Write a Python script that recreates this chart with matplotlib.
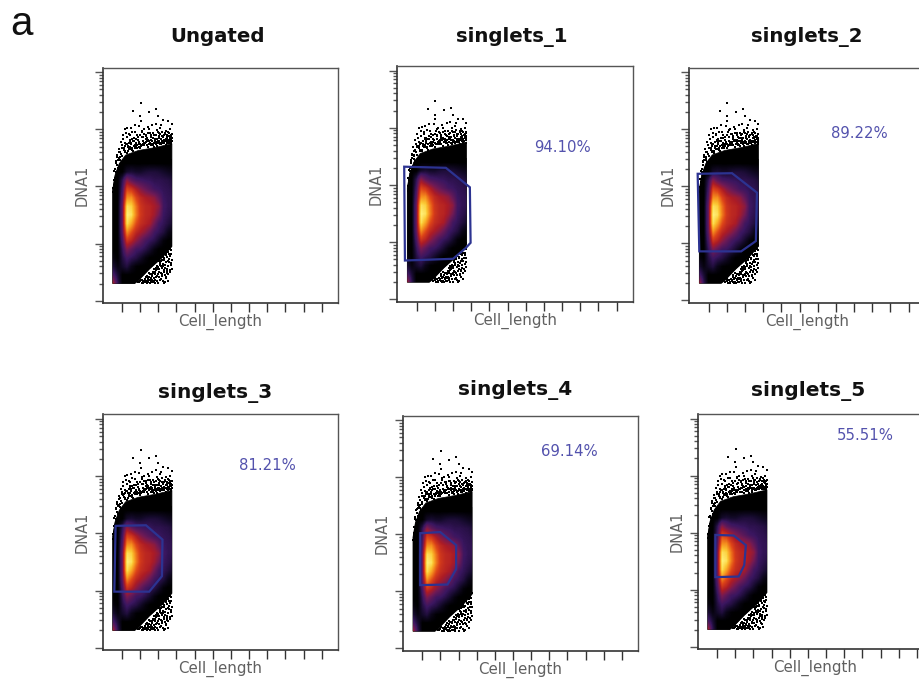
import numpy as np
import matplotlib
matplotlib.use("Agg")
import matplotlib.pyplot as plt
from matplotlib.colors import LinearSegmentedColormap
from matplotlib.patches import Polygon

###---panels: x = Cell_length tick units, y = log10 DNA1---###
titles = ["Ungated", "singlets_1", "singlets_2", "singlets_3", "singlets_4", "singlets_5"]
percents = [None, "94.10%", "89.22%", "81.21%", "69.14%", "55.51%"]

# density, rows top->bottom, 0=black 10=pale yellow
dens_x = [0.5, 0.75, 1.0, 1.25, 1.5, 1.75, 2.0, 2.25, 2.5, 2.75, 3.0, 3.25, 3.5, 3.75]
dens_y = [2.4, 2.25, 2.1, 1.95, 1.8, 1.65, 1.5, 1.35, 1.2, 1.05, 0.9, 0.75, 0.6, 0.45, 0.3]
dens = [
    [0, 0, 0, 0, 0, 0, 0, 0, 0, 0, 0, 0, 0, 0],
    [0, 0, 0, 0.8, 1, 0.8, 0.8, 1, 1.1, 1.1, 1, 0.8, 0.6, 0.5],
    [0, 0, 1.5, 3.8, 2.8, 2.2, 2, 1.8, 1.7, 1.5, 1.5, 1.4, 1.3, 1],
    [0, 0, 2, 6, 5.5, 4.5, 3.6, 3, 2.5, 2, 1.8, 1.6, 1.5, 1.3],
    [0, 0, 2.5, 7.5, 7.5, 6, 5, 4.5, 4.2, 3.8, 2.8, 1.8, 1.6, 1.5],
    [0, 0, 3, 9.5, 9, 7, 5.5, 5, 4.8, 4.4, 3.8, 2, 1.6, 1.5],
    [0, 0, 3, 10, 9.5, 7.2, 5.6, 5, 4.8, 4.2, 3.2, 1.8, 1.5, 1.2],
    [0, 0, 3, 9.5, 8, 6.2, 5.2, 4.8, 4.4, 3.2, 2, 1.6, 1.2, 0.8],
    [0, 0, 2.8, 7.5, 6.2, 5, 4.4, 3.8, 3, 2, 1.6, 1.2, 0.5, 0.2],
    [0, 0, 2.2, 5.5, 4.8, 3.8, 3, 2.2, 1.7, 1.4, 0.8, 0.2, 0, 0],
    [0, 0, 1.6, 3.5, 2.8, 2, 1.8, 1.4, 0.9, 0.3, 0, 0, 0, 0],
    [0.3, 0, 1.2, 2, 1.6, 1.3, 0.8, 0.3, 0, 0, 0, 0, 0, 0],
    [1, 0.3, 0.8, 1.2, 0.5, 0.1, 0, 0, 0, 0, 0, 0, 0, 0],
    [2.2, 1, 0, 0, 0, 0, 0, 0, 0, 0, 0, 0, 0, 0],
    [4.5, 1.5, 0, 0, 0, 0, 0, 0, 0, 0, 0, 0, 0, 0],
]

# outline of the solid black part of the cloud
cloud_x = [0.49, 0.49, 0.62, 0.85, 1.2, 1.9, 2.8, 3.75, 3.75, 3.2, 2.5, 1.9, 1.7]
cloud_y = [0.3, 1.95, 2.2, 2.4, 2.55, 2.63, 2.68, 2.75, 0.95, 0.75, 0.55, 0.35, 0.3]

# single events above the cloud
top_x = [2.03, 1.62, 2.87, 2.5, 1.99, 2.03, 3.0, 3.27, 3.55, 3.73, 1.16, 1.3, 1.48, 1.7, 1.95, 2.2, 2.42, 2.66,
         2.93, 3.1, 3.42, 3.66, 1.05, 1.22, 1.4, 1.58, 1.82, 2.08, 2.31, 2.55, 2.78, 3.02, 3.2, 3.38, 3.6, 3.72,
         0.92, 1.08, 1.25, 1.44, 1.66, 1.88, 2.12, 2.35, 2.6, 2.83, 3.06, 3.3, 3.5, 3.7, 0.82, 0.98, 1.15, 1.33,
         1.52, 1.74, 1.96, 2.18, 2.4, 2.63, 2.88, 3.12, 3.35, 3.56, 3.74, 0.75, 0.9, 1.03, 1.19, 1.37, 1.55,
         1.77, 2.0, 2.24, 2.46, 2.7, 2.95, 3.17, 3.41, 3.63, 0.68, 0.84, 0.96, 1.11, 1.28, 1.46, 1.63, 1.85,
         2.06, 2.28, 2.51, 2.74, 2.98, 3.23, 3.46, 3.69, 0.62, 0.72, 0.87, 1.01, 1.17, 1.35, 1.6, 1.92, 2.15,
         2.37, 2.58, 2.8, 3.04, 3.26, 3.48, 3.71, 0.55, 0.66, 0.79, 0.94, 0.52, 0.6, 0.7, 0.51, 0.57, 0.64,
         1.42, 1.72, 2.1, 2.48, 2.85, 3.15, 3.52, 1.5, 1.8, 2.26, 2.68, 3.08, 3.44, 3.68, 0.77, 1.13, 0.88, 1.21,
         2.31, 2.44, 2.57, 2.69, 2.81, 2.92, 3.03, 3.14, 3.24, 3.33, 3.43, 3.53, 3.62, 3.72, 2.36, 2.49, 2.62,
         2.76, 2.9, 3.0, 3.11, 3.21, 3.31, 3.4, 3.49, 3.58, 3.67, 3.74, 1.31, 1.39, 1.47, 1.56, 1.64, 1.73, 1.83,
         1.93, 2.02, 2.11, 2.2, 1.1, 1.19, 1.27, 1.36, 1.45, 1.54, 1.68, 1.79, 1.9, 2.01, 2.14, 2.23, 2.33, 2.45,
         2.59, 2.73, 2.86, 2.97, 3.09, 3.19, 3.29, 3.39, 3.47, 3.57, 3.65, 3.73, 1.0, 0.86, 0.74, 0.69, 0.58]
top_y = [3.46, 3.32, 3.35, 3.31, 3.23, 3.15, 3.23, 3.16, 3.15, 3.09, 3.0, 3.02, 3.03, 3.07, 3.06, 3.0, 3.04, 3.08,
         2.99, 3.03, 2.98, 3.0, 2.9, 2.94, 2.92, 2.96, 2.9, 2.95, 2.91, 2.94, 2.9, 2.93, 2.89, 2.92, 2.88, 2.91,
         2.78, 2.83, 2.86, 2.82, 2.85, 2.81, 2.86, 2.83, 2.87, 2.82, 2.85, 2.81, 2.84, 2.82, 2.66, 2.72, 2.76,
         2.71, 2.77, 2.73, 2.78, 2.74, 2.79, 2.75, 2.78, 2.74, 2.79, 2.76, 2.8, 2.55, 2.61, 2.67, 2.62, 2.68,
         2.64, 2.7, 2.67, 2.72, 2.69, 2.73, 2.71, 2.75, 2.72, 2.77, 2.42, 2.5, 2.57, 2.64, 2.59, 2.66, 2.62,
         2.68, 2.71, 2.76, 2.8, 2.7, 2.76, 2.8, 2.78, 2.84, 2.3, 2.38, 2.46, 2.53, 2.6, 2.7, 2.8, 2.75, 2.8,
         2.85, 2.81, 2.84, 2.88, 2.76, 2.86, 2.74, 2.12, 2.25, 2.33, 2.42, 1.98, 2.08, 2.17, 1.9, 2.02, 2.15,
         2.9, 2.95, 2.98, 3.0, 3.1, 3.08, 2.95, 2.74, 2.76, 2.77, 2.79, 2.77, 2.8, 2.86, 2.47, 2.68, 2.52, 2.74,
         2.78, 2.82, 2.77, 2.85, 2.8, 2.84, 2.79, 2.83, 2.86, 2.8, 2.84, 2.81, 2.87, 2.78, 2.72, 2.75, 2.73,
         2.76, 2.74, 2.79, 2.75, 2.78, 2.76, 2.79, 2.77, 2.8, 2.83, 2.85, 2.62, 2.66, 2.7, 2.67, 2.71, 2.68, 2.73,
         2.7, 2.74, 2.72, 2.76, 2.68, 2.71, 2.74, 2.77, 2.8, 2.83, 2.8, 2.84, 2.87, 2.9, 2.87, 2.92, 2.88, 2.93,
         2.9, 2.94, 2.91, 2.95, 2.92, 2.96, 2.9, 2.94, 2.9, 2.93, 2.89, 2.92, 2.68, 2.6, 2.52, 2.44, 2.27]

# single events below the cloud, bottom right
low_x = [3.72, 3.6, 3.48, 3.7, 3.55, 3.4, 3.25, 3.66, 3.5, 3.33, 3.18, 3.05, 3.74, 3.58, 3.42, 3.28, 3.12, 2.95,
         2.85, 3.68, 3.52, 3.36, 3.2, 3.02, 2.88, 2.72, 3.73, 3.62, 3.46, 3.3, 3.14, 2.98, 2.8, 2.65, 2.5, 3.56,
         3.38, 3.22, 3.06, 2.9, 2.75, 2.58, 2.42, 2.3, 3.45, 3.1, 2.94, 2.78, 2.62, 2.46, 2.34, 2.2, 2.08, 3.35,
         3.0, 2.82, 2.68, 2.52, 2.38, 2.25, 2.12, 2.0, 1.88, 3.5, 3.25, 2.7, 2.55, 2.4, 2.28, 2.15, 2.03, 1.92,
         3.4, 3.15, 2.92, 2.6, 2.44, 2.32, 2.18, 3.55, 3.3, 2.8, 2.36, 3.64, 3.69, 3.57, 3.44, 3.32, 3.24, 3.16,
         3.08, 3.71, 3.61, 3.51, 3.39, 3.27, 3.13, 3.01, 2.91, 2.84, 2.76, 3.66, 3.47, 3.34, 3.19, 3.04, 2.93,
         2.77, 2.66, 2.54, 2.47]
low_y = [0.98, 0.95, 0.92, 0.88, 0.86, 0.83, 0.79, 0.78, 0.77, 0.74, 0.72, 0.69, 0.72, 0.68, 0.67, 0.65, 0.63, 0.61,
         0.58, 0.62, 0.6, 0.58, 0.57, 0.55, 0.53, 0.5, 0.56, 0.53, 0.52, 0.5, 0.48, 0.47, 0.46, 0.44, 0.42, 0.47,
         0.45, 0.43, 0.42, 0.41, 0.39, 0.38, 0.37, 0.35, 0.39, 0.36, 0.35, 0.34, 0.33, 0.33, 0.32, 0.32, 0.31,
         0.33, 0.31, 0.31, 0.37, 0.31, 0.32, 0.38, 0.36, 0.34, 0.32, 0.55, 0.34, 0.32, 0.36, 0.31, 0.34, 0.35,
         0.37, 0.33, 0.42, 0.38, 0.44, 0.39, 0.4, 0.41, 0.31, 0.35, 0.31, 0.37, 0.44, 0.91, 0.82, 0.81, 0.8, 0.72,
         0.76, 0.7, 0.66, 0.66, 0.73, 0.7, 0.63, 0.61, 0.6, 0.59, 0.56, 0.51, 0.55, 0.5, 0.49, 0.53, 0.46, 0.5,
         0.44, 0.49, 0.47, 0.46, 0.48]

# gates per panel
gate_x = [None,
          [0.32, 2.61, 3.93, 3.97, 3.71, 3.01, 0.36],
          [0.40, 2.29, 3.66, 3.60, 2.79, 0.49],
          [0.65, 2.32, 3.23, 3.20, 2.50, 0.58],
          [0.89, 1.99, 2.87, 2.87, 2.39, 0.89],
          [0.91, 1.92, 2.59, 2.50, 2.19, 0.91]]
gate_y = [None,
          [2.32, 2.30, 1.96, 0.99, 0.90, 0.71, 0.68],
          [2.22, 2.23, 1.89, 1.04, 0.86, 0.86],
          [2.13, 2.14, 1.89, 1.25, 0.98, 0.98],
          [2.02, 2.04, 1.81, 1.39, 1.12, 1.11],
          [1.96, 1.95, 1.78, 1.43, 1.23, 1.22]]

# layout in pixels: left, top, bottom, width
W, H = 920, 683
boxes = [(102.7, 67.7, 303, 235.3), (397.3, 66, 301.7, 235.5), (689.3, 67.7, 302.7, 235.5),
         (102.7, 414.3, 650, 235.3), (403, 415.7, 650.7, 235), (697.7, 414, 649, 235.5)]
title_pos = [(218, 37), (512, 37), (807, 37), (215, 393), (515, 390), (808, 391)]
pct_pos = [None, (563, 147), (859, 133), (267, 466), (569, 452), (865, 435)]

cmap = LinearSegmentedColormap.from_list("hot_dens", [
    (0.0, "#000000"), (0.08, "#140a2a"), (0.18, "#3a1660"), (0.32, "#701a55"), (0.45, "#ad1c25"),
    (0.6, "#dc4318"), (0.75, "#f58e1e"), (0.88, "#fbc934"), (1.0, "#fff27a")])

fig = plt.figure(figsize=(W/100, H/100), dpi=100)
major = [0, 1, 2, 3, 4]
minor = [np.log10(k)+d for d in range(4) for k in range(2, 10)]

for i in range(6):
    l, t, b, w = boxes[i]
    ax = fig.add_axes([l/W, 1-b/H, w/W, (b-t)/H])

    cloud = Polygon(np.column_stack([cloud_x, cloud_y]), closed=True, fc="k", ec="k", lw=0.5, zorder=1)
    ax.add_patch(cloud)
    dx = (dens_x[1]-dens_x[0])/2
    dy = (dens_y[0]-dens_y[1])/2
    im = ax.imshow(dens, cmap=cmap, vmin=0, vmax=10, interpolation="bilinear", aspect="auto", zorder=2,
                   extent=[dens_x[0]-dx, dens_x[-1]+dx, dens_y[-1]-dy, dens_y[0]+dy])
    im.set_clip_path(cloud)
    ax.set_xlim(-0.06, 12.89)
    ax.set_ylim(-0.04, 4.08)
    ax.scatter(top_x, top_y, s=1.1, c="k", marker="s", linewidths=0, zorder=3)
    ax.scatter(low_x, low_y, s=1.1, c="k", marker="s", linewidths=0, zorder=3)

    if gate_x[i] is not None:
        ax.add_patch(Polygon(np.column_stack([gate_x[i], gate_y[i]]), closed=True, fill=False,
                             ec="#2c3391", lw=1.6, zorder=4, clip_on=False))
        px, py = pct_pos[i]
        fig.text(px/W, 1-py/H, percents[i], color="#5352ad", fontsize=10.7, ha="center", va="center")

    ax.set_xticks(range(1, 13))
    ax.set_yticks(major)
    ax.set_yticks(minor, minor=True)
    ax.tick_params(axis="x", length=6.5, width=1, color="#333333", labelbottom=False)
    ax.tick_params(axis="y", which="major", length=6, width=1, color="#555555", labelleft=False)
    ax.tick_params(axis="y", which="minor", length=3.2, width=1, color="#555555")
    for side in ["left", "bottom"]:
        ax.spines[side].set_linewidth(1.2)
        ax.spines[side].set_color("#333333")
    for side in ["top", "right"]:
        ax.spines[side].set_linewidth(1)
        ax.spines[side].set_color("#555555")

    ax.set_xlabel("Cell_length", fontsize=10.8, color="#606060", labelpad=1.5)
    ax.set_ylabel("DNA1", fontsize=10.5, color="#606060", labelpad=3)

    fig.text(title_pos[i][0]/W, 1-title_pos[i][1]/H, titles[i], fontsize=14.2 if i < 3 else 14.5,
             fontweight="bold", ha="center", va="center", color="#111111")

fig.text(22/W, 1-24/H, "a", fontsize=29, family="Liberation Sans", ha="center", va="center", color="#111111")

fig.savefig("out.png", dpi=100)
